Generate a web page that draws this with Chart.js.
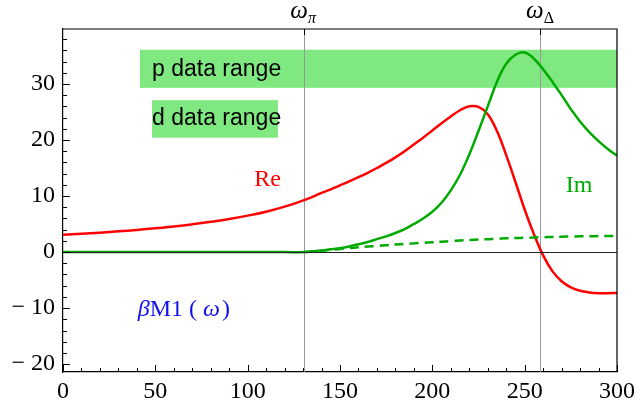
<!DOCTYPE html>
<html>
<head>
<meta charset="utf-8">
<script src="https://cdn.jsdelivr.net/npm/chart.js@4"></script>
<style>
  html, body { margin: 0; padding: 0; background: #fff; }
  #chart { display: block; }
</style>
</head>
<body>
<canvas id="chart" width="640" height="405"></canvas>
<script>
// photon energy omega (MeV) and the beta M1 amplitude parts
const omega = [0, 10, 20, 30, 40, 50, 60, 70, 80, 90, 100, 110, 120, 131,
  140, 145, 150, 155, 160, 165, 170, 175, 180, 185, 190, 195, 200, 205, 210, 215, 220, 225,
  230, 235, 240, 245, 250, 255, 260, 265, 270, 275, 280, 285, 290, 295, 300];
const reValues = [3.1, 3.25, 3.45, 3.7, 3.95, 4.25, 4.55, 4.95, 5.4, 5.9, 6.5, 7.2, 8.1, 9.3,
  10.55, 11.2, 11.9, 12.6, 13.35, 14.15, 15.0, 15.9, 16.9, 18.0, 19.2, 20.4, 21.7, 23.0, 24.2, 25.3, 26.0, 25.9,
  24.6, 21.6, 17.3, 12.5, 7.6, 3.2, -0.6, -3.4, -5.2, -6.3, -6.9, -7.2, -7.35, -7.35, -7.3];
const imValues = [0, 0, 0, 0, 0, 0, 0, 0, 0, 0, 0, 0, 0, 0,
  0.3, 0.5, 0.7, 1.0, 1.4, 1.8, 2.3, 2.8, 3.4, 4.1, 5.0, 6.0, 7.2, 8.8, 11.0, 13.8, 17.4, 21.6,
  26.0, 30.4, 33.6, 35.2, 35.6, 34.5, 32.6, 30.4, 28.0, 25.5, 23.3, 21.4, 19.8, 18.4, 17.2];
const imDashedValues = [null, null, null, null, null, null, null, null, null, null, null, null, null, 0,
  0.25, 0.4, 0.55, 0.7, 0.85, 0.98, 1.1, 1.23, 1.35, 1.45, 1.55, 1.65, 1.75, 1.85, 1.95, 2.05, 2.15, 2.22,
  2.3, 2.37, 2.45, 2.5, 2.55, 2.6, 2.65, 2.7, 2.75, 2.78, 2.8, 2.83, 2.85, 2.87, 2.9];

const xTicks = [0, 50, 100, 150, 200, 250, 300];
const yTicks = [-20, -10, 0, 10, 20, 30];

// thresholds marked on top
const omegaPi = 130.7;
const omegaDelta = 258.3;

// shaded data ranges [xFrom, xTo, yLow, yHigh]
const pRange = [41.7, 300, 29.3, 36.1];
const dRange = [48.2, 116.4, 20.4, 27.1];

const GREEN = "rgb(0,170,0)";
const SERIF = "'Liberation Serif', 'Times New Roman', serif";

function pts(values) {
  return omega.map((x, i) => ({ x: x, y: values[i] }));
}

function minus(v) {
  return v < 0 ? "\u2212 " + Math.abs(v) : String(v);
}

const decor = {
  id: "decor",
  beforeDatasetsDraw(chart) {
    const ctx = chart.ctx;
    const xs = chart.scales.x, ys = chart.scales.y;
    const area = chart.chartArea;
    ctx.save();
    ctx.fillStyle = "rgb(128,232,128)";
    [pRange, dRange].forEach((r) => {
      const x0 = xs.getPixelForValue(r[0]), x1 = xs.getPixelForValue(r[1]);
      const y0 = ys.getPixelForValue(r[3]), y1 = ys.getPixelForValue(r[2]);
      ctx.fillRect(x0, y0, x1 - x0, y1 - y0);
    });
    ctx.strokeStyle = "#999";
    ctx.lineWidth = 1;
    [omegaPi, omegaDelta].forEach((w) => {
      const px = Math.round(xs.getPixelForValue(w)) + 0.5;
      ctx.beginPath();
      ctx.moveTo(px, area.top);
      ctx.lineTo(px, area.bottom);
      ctx.stroke();
    });
    ctx.restore();
  },
  afterDatasetsDraw(chart) {
    const ctx = chart.ctx;
    const xs = chart.scales.x, ys = chart.scales.y;
    const area = chart.chartArea;
    ctx.save();
    // zero line
    const y0 = Math.round(ys.getPixelForValue(0)) + 0.5;
    ctx.strokeStyle = "#222";
    ctx.lineWidth = 1;
    ctx.beginPath();
    ctx.moveTo(area.left, y0);
    ctx.lineTo(area.right, y0);
    ctx.stroke();

    // frame top and right
    ctx.strokeStyle = "#000";
    ctx.lineWidth = 1.2;
    ctx.beginPath();
    ctx.moveTo(area.left, area.top);
    ctx.lineTo(area.right, area.top);
    ctx.lineTo(area.right, area.bottom);
    ctx.stroke();

    // inward ticks
    ctx.lineWidth = 1;
    ctx.beginPath();
    for (let v = 0; v <= 300; v += 10) {
      const px = Math.round(xs.getPixelForValue(v)) + 0.5;
      const len = v % 50 === 0 ? 7 : 4;
      ctx.moveTo(px, area.bottom);
      ctx.lineTo(px, area.bottom - len);
    }
    for (let v = -20; v <= 38; v += 2) {
      const py = Math.round(ys.getPixelForValue(v)) + 0.5;
      const len = v % 10 === 0 ? 7 : 4;
      ctx.moveTo(area.left, py);
      ctx.lineTo(area.left + len, py);
    }
    [omegaPi, omegaDelta].forEach((w) => {
      const px = Math.round(xs.getPixelForValue(w)) + 0.5;
      ctx.moveTo(px, area.top);
      ctx.lineTo(px, area.top + 6);
    });
    ctx.stroke();

    // box labels
    ctx.fillStyle = "#000";
    ctx.font = "23px 'Liberation Sans', Arial, sans-serif";
    ctx.textBaseline = "alphabetic";
    ctx.textAlign = "left";
    ctx.fillText("p data range", xs.getPixelForValue(48.2), ys.getPixelForValue(31.5));
    ctx.fillText("d data range", xs.getPixelForValue(48.2), ys.getPixelForValue(22.7));

    // curve labels
    ctx.font = "24px " + SERIF;
    ctx.fillStyle = "red";
    ctx.fillText("Re", xs.getPixelForValue(103.5), ys.getPixelForValue(11.85));
    ctx.fillStyle = GREEN;
    ctx.fillText("Im", xs.getPixelForValue(272.2), ys.getPixelForValue(10.7));

    // beta M1 label
    ctx.fillStyle = "#1010f0";
    let px = xs.getPixelForValue(40.5);
    const py = ys.getPixelForValue(-11.4);
    ctx.font = "italic 24px " + SERIF;
    ctx.fillText("\u03b2", px, py);
    px += ctx.measureText("\u03b2").width;
    ctx.font = "24px " + SERIF;
    ctx.fillText("M1 (", px, py);
    px += ctx.measureText("M1 ( ").width;
    ctx.font = "italic 24px " + SERIF;
    ctx.fillText("\u03c9", px, py);
    px += ctx.measureText("\u03c9").width + 2;
    ctx.font = "24px " + SERIF;
    ctx.fillText(")", px, py);

    // threshold labels above the frame
    ctx.fillStyle = "#000";
    [[omegaPi, "\u03c0"], [omegaDelta, "\u0394"]].forEach(([w, sub]) => {
      let lx = xs.getPixelForValue(w) - 14;
      ctx.font = "italic 25px " + SERIF;
      ctx.fillText("\u03c9", lx, 18);
      lx += ctx.measureText("\u03c9").width;
      ctx.font = (sub === "\u03c0" ? "italic " : "") + "16px " + SERIF;
      ctx.fillText(sub, lx, 23);
    });
    ctx.restore();
  }
};

new Chart(document.getElementById("chart"), {
  type: "line",
  data: {
    datasets: [
      {
        label: "Im",
        data: pts(imValues),
        borderColor: GREEN,
        borderWidth: 2.5,
        pointRadius: 0,
        tension: 0.4
      },
      {
        label: "Im (dashed)",
        data: pts(imDashedValues),
        borderColor: GREEN,
        borderWidth: 2.5,
        borderDash: [9, 6],
        pointRadius: 0,
        spanGaps: false,
        tension: 0.4
      },
      {
        label: "Re",
        data: pts(reValues),
        borderColor: "red",
        borderWidth: 2.5,
        pointRadius: 0,
        tension: 0.4
      }
    ]
  },
  options: {
    responsive: false,
    animation: false,
    layout: { padding: { top: 29, right: 23, left: 0, bottom: 0 } },
    plugins: {
      legend: { display: false },
      tooltip: { enabled: false }
    },
    scales: {
      x: {
        type: "linear",
        min: 0,
        max: 300,
        afterBuildTicks: (scale) => { scale.ticks = xTicks.map((v) => ({ value: v })); },
        afterFit: (scale) => { scale.height = 33; },
        grid: { display: false, drawTicks: false },
        border: { display: true, color: "#000", width: 1.2 },
        ticks: {
          color: "#000",
          padding: 5,
          maxRotation: 0,
          font: { family: SERIF, size: 24 },
          callback: (v) => minus(v)
        }
      },
      y: {
        type: "linear",
        min: -21.4,
        max: 39.8,
        afterBuildTicks: (scale) => { scale.ticks = yTicks.map((v) => ({ value: v })); },
        afterFit: (scale) => { scale.width = 63; },
        grid: { display: false, drawTicks: false },
        border: { display: true, color: "#000", width: 1.2 },
        ticks: {
          color: "#000",
          padding: 8,
          font: { family: SERIF, size: 24 },
          callback: (v) => minus(v)
        }
      }
    }
  },
  plugins: [decor]
});
</script>
</body>
</html>
